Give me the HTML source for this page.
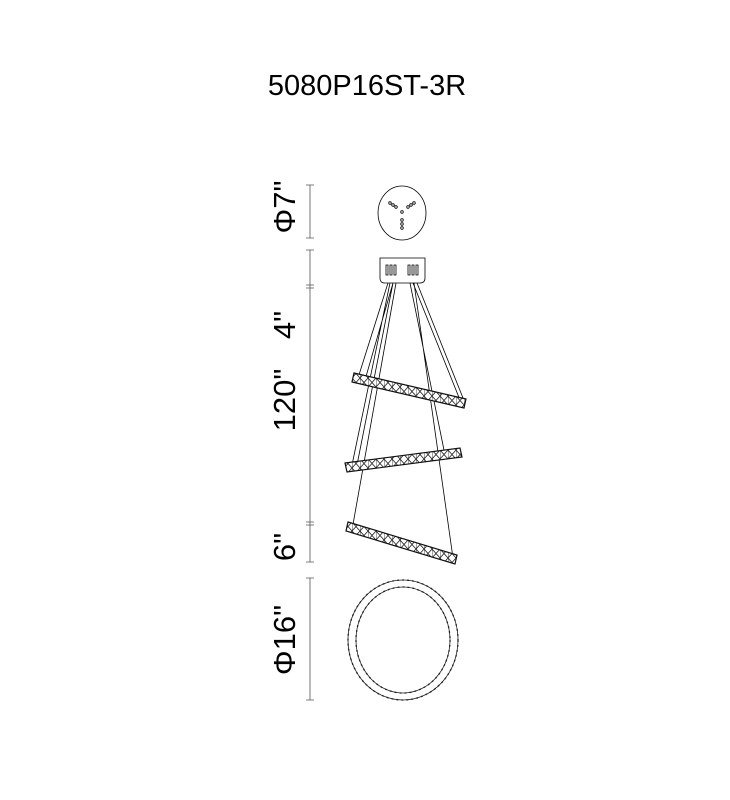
<!DOCTYPE html>
<html><head><style>body{margin:0;background:#fff}svg{display:block}</style></head><body>
<svg width="730" height="800" viewBox="0 0 730 800" xmlns="http://www.w3.org/2000/svg" font-family="Liberation Sans, sans-serif">
<defs>
<pattern id="x" width="8" height="9" patternUnits="userSpaceOnUse"><rect width="8" height="9" fill="#fff"/><path d="M0 0L8 9M8 0L0 9M0 0V9" stroke="#222" stroke-width="0.8"/></pattern>
</defs>
<text x="367" y="95" font-size="29" text-anchor="middle">5080P16ST-3R</text>
<g fill="#000" font-size="31">
<text transform="translate(295,207) rotate(-90)" text-anchor="middle">Φ7"</text>
<text transform="translate(295,325) rotate(-90)" text-anchor="middle">4"</text>
<text transform="translate(295,400) rotate(-90)" text-anchor="middle">120"</text>
<text transform="translate(295,547) rotate(-90)" text-anchor="middle">6"</text>
<text transform="translate(295,640) rotate(-90)" text-anchor="middle">Φ16"</text>
</g>
<g stroke="#555" stroke-width="0.8" fill="none">
<path d="M310 185V238M306 185H314M306 238H314"/>
<path d="M310 250V562M306 250H314M306 285H314M306 288H314M306 522H314M306 525H314M306 562H314"/>
<path d="M310 578V700M306 578H314M306 700H314"/>
</g>
<g stroke="#000" stroke-width="0.8" fill="none">
<ellipse cx="402" cy="213" rx="24" ry="27"/>
<g fill="none"><circle cx="390" cy="203" r="1.3"/><circle cx="393" cy="205" r="1.3"/><circle cx="396" cy="207" r="1.3"/><circle cx="408" cy="207" r="1.3"/><circle cx="411" cy="205" r="1.3"/><circle cx="414" cy="203" r="1.3"/><circle cx="402" cy="212" r="1.3"/><circle cx="402" cy="220" r="1.3"/><circle cx="402" cy="224" r="1.3"/><circle cx="402" cy="228" r="1.3"/></g>
<path d="M380 258H425V278Q425 283 420 283H385Q380 283 380 278Z"/>
<path d="M386 265v10h2v-10zM390 265v10h2v-10zM394 265v10h2v-10zM408 265v10h2v-10zM412 265v10h2v-10zM416 265v10h2v-10z"/>
<path d="M388 283L358 378M393 283L365 380M390 283L352 465M393 283L357 465"/>
<path d="M413 283L460 400M417 283L465 403M410 283L445 455M414 283L453 558M396 283L352 530"/>
</g>
<g stroke="#111" stroke-width="1.2" fill="url(#x)">
<polygon points="354,373 466,399 464,408 352,382"/>
<polygon points="345,463 460,448 462,457 347,472"/>
<polygon points="348,522 457,555 455,564 346,531"/>
</g>
<g fill="none" stroke="#222" stroke-width="1.3">
<ellipse cx="403" cy="640" rx="55" ry="60" stroke-dasharray="2 3"/>
<ellipse cx="403" cy="640" rx="55" ry="60" stroke-width="0.8"/>
<ellipse cx="403" cy="640" rx="47" ry="53" stroke-dasharray="2 3"/>
<ellipse cx="403" cy="640" rx="47" ry="53" stroke-width="0.8"/>
</g>
</svg>
</body></html>
